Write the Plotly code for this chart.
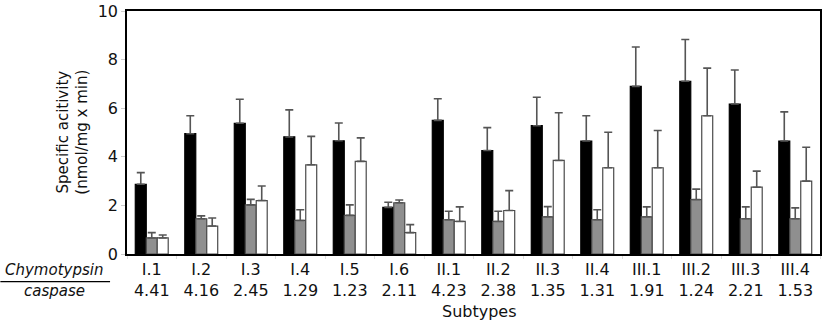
import plotly.graph_objects as go

subtypes = ["I.1", "I.2", "I.3", "I.4", "I.5", "I.6", "II.1", "II.2", "II.3", "II.4",
            "III.1", "III.2", "III.3", "III.4"]
ratio_labels = ["4.41", "4.16", "2.45", "1.29", "1.23", "2.11", "4.23", "2.38", "1.35", "1.31",
                "1.91", "1.24", "2.21", "1.53"]

black_vals = [2.87, 4.95, 5.38, 4.82, 4.66, 1.92, 5.50, 4.26, 5.28, 4.65, 6.90, 7.11, 6.17, 4.65]
black_top = [3.35, 5.69, 6.37, 5.93, 5.39, 2.13, 6.39, 5.20, 6.45, 5.69, 8.52, 8.83, 7.57, 5.85]
gray_vals = [0.66, 1.45, 2.02, 1.38, 1.59, 2.11, 1.41, 1.34, 1.53, 1.41, 1.53, 2.24, 1.45, 1.45]
gray_top = [0.88, 1.57, 2.25, 1.82, 2.02, 2.22, 1.76, 1.76, 1.95, 1.82, 1.94, 2.67, 1.94, 1.90]
white_vals = [0.66, 1.15, 2.20, 3.67, 3.81, 0.88, 1.34, 1.79, 3.85, 3.55, 3.55, 5.69, 2.75, 3.00]
white_top = [0.78, 1.48, 2.80, 4.84, 4.78, 1.21, 1.94, 2.61, 5.81, 5.01, 5.08, 7.65, 3.41, 4.39]

y_ticks = [0, 2, 4, 6, 8, 10]

FONT = "DejaVu Sans"

tick_text = [f"{s}<br>{r}" for s, r in zip(subtypes, ratio_labels)]

fig = go.Figure()
series = [
    (black_vals, black_top, "#000000", "#000000"),
    (gray_vals, gray_top, "#8f8f8f", "#4a4a4a"),
    (white_vals, white_top, "#ffffff", "#4a4a4a"),
]
for vals, tops, fill, edge in series:
    fig.add_trace(go.Bar(
        x=subtypes, y=vals,
        marker=dict(color=fill, line=dict(color=edge, width=1.2)),
        error_y=dict(type="data", symmetric=False,
                     array=[t - v for t, v in zip(tops, vals)],
                     arrayminus=[0] * len(vals),
                     color="#555555", thickness=1.6, width=4),
        showlegend=False,
    ))

fig.update_layout(
    width=824, height=323,
    margin=dict(l=127, r=2, t=8, b=69),
    paper_bgcolor="white", plot_bgcolor="white",
    barmode="group", bargap=0.335, bargroupgap=0,
    font=dict(family=FONT, size=15, color="#111111"),
    xaxis=dict(
        tickmode="array", tickvals=subtypes, ticktext=tick_text,
        tickfont=dict(size=16),
        showline=True, linecolor="black", linewidth=1.5, mirror=True,
        ticks="outside", tickson="boundaries", ticklen=3, tickcolor="#dddddd",
        showgrid=False,
    ),
    yaxis=dict(
        range=[0, 10], tickvals=y_ticks,
        tickfont=dict(size=16), ticklabeloverflow="allow",
        showline=True, linecolor="black", linewidth=1.5, mirror=True,
        ticks="outside", ticklen=4, tickcolor="#cccccc",
        showgrid=False, zeroline=False,
    ),
)

def px_x(x):
    return (x - 127) / 695

def px_y(y):
    return (254 - y) / 246

fig.add_annotation(text="Specific acitivity<br>(nmol/mg x min)", textangle=-90,
                   xref="paper", yref="paper", x=px_x(72), y=0.5,
                   xanchor="center", yanchor="middle", showarrow=False,
                   font=dict(size=15))
fig.add_annotation(text="<i>Chymotypsin</i>", xref="paper", yref="paper",
                   x=px_x(54), y=px_y(270), xanchor="center", yanchor="middle",
                   showarrow=False, font=dict(size=15))
fig.add_annotation(text="<i>caspase</i>", xref="paper", yref="paper",
                   x=px_x(54), y=px_y(291), xanchor="center", yanchor="middle",
                   showarrow=False, font=dict(size=15))
fig.add_annotation(text="Subtypes", xref="paper", yref="paper",
                   x=px_x(481), y=px_y(312), xanchor="center", yanchor="middle",
                   showarrow=False, font=dict(size=16))
fig.add_shape(type="line", xref="paper", yref="paper",
              x0=px_x(0), x1=px_x(110), y0=px_y(282), y1=px_y(282),
              line=dict(color="black", width=1.2))

fig.write_html("out.html", config={"displayModeBar": False},
               post_script="document.body.style.margin='0';document.body.style.padding='0';")
